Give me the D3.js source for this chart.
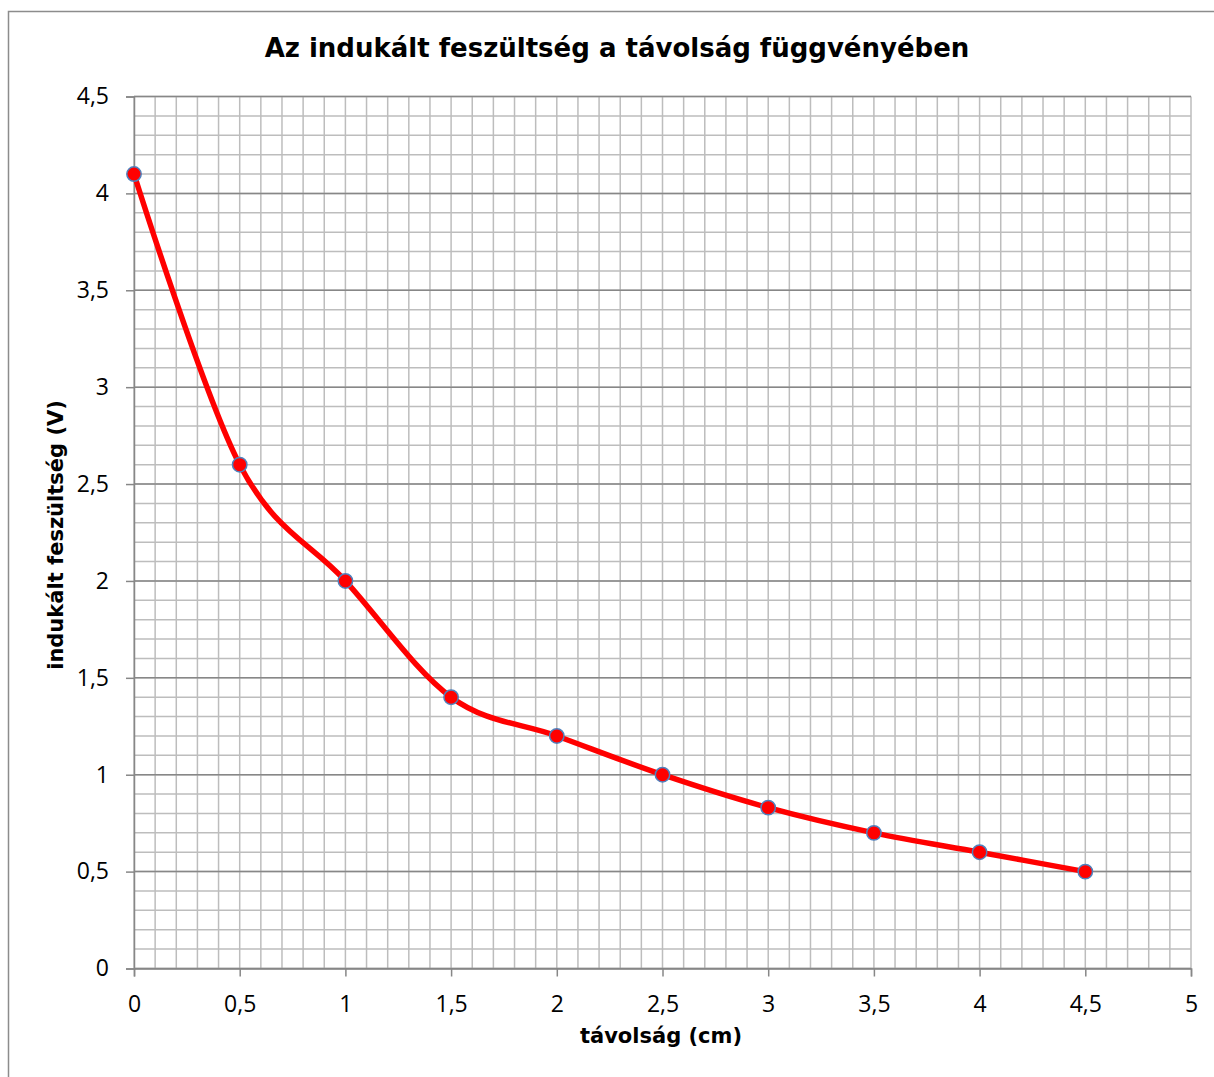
<!DOCTYPE html>
<meta charset="utf-8">
<script src="https://d3js.org/d3.v7.min.js"></script>
<style>
  body { margin: 0; background: #fff; }
</style>
<div id="chart"></div>
<script>
// data
var distance = [0, 0.5, 1, 1.5, 2, 2.5, 3, 3.5, 4, 4.5];
var voltage = [4.1, 2.6, 2.0, 1.4, 1.2, 1.0, 0.83, 0.7, 0.6, 0.5];
var xTicks = [0, 0.5, 1, 1.5, 2, 2.5, 3, 3.5, 4, 4.5, 5];
var yTicks = [0, 0.5, 1, 1.5, 2, 2.5, 3, 3.5, 4, 4.5];
var minorStep = 0.1;

var W = 1214, H = 1077;
var margin = { top: 96.5, right: 23, bottom: 108.5, left: 134 };
var width = W - margin.left - margin.right,
    height = H - margin.top - margin.bottom;

var fmt = function (d) { return String(d).replace(".", ","); };

var svg = d3.select("#chart").append("svg")
    .attr("width", W).attr("height", H);

// outer frame (runs off the right/bottom edge like the screenshot)
svg.append("rect")
    .attr("x", 8.5).attr("y", 11.5)
    .attr("width", W + 10).attr("height", H + 10)
    .attr("fill", "none").attr("stroke", "#8c8c8c").attr("stroke-width", 1.5);

var g = svg.append("g")
    .attr("transform", "translate(" + margin.left + "," + margin.top + ")");

var x = d3.scaleLinear().domain([0, 5]).range([0, width]);
var y = d3.scaleLinear().domain([0, 4.5]).range([height, 0]);

// minor grid
var xMinor = d3.range(0, 50 + 1).map(function (i) { return i * minorStep; });
var yMinor = d3.range(0, 45 + 1).map(function (i) { return i * minorStep; });

g.selectAll(".vgrid").data(xMinor).enter().append("line")
    .attr("x1", function (d) { return x(d); }).attr("x2", function (d) { return x(d); })
    .attr("y1", 0).attr("y2", height)
    .attr("stroke", "#bdbdbd").attr("stroke-width", 1.5);

g.selectAll(".hgrid").data(yMinor).enter().append("line")
    .attr("y1", function (d) { return y(d); }).attr("y2", function (d) { return y(d); })
    .attr("x1", 0).attr("x2", width)
    .attr("stroke", "#bdbdbd").attr("stroke-width", 1.5);

// major horizontal grid
g.selectAll(".hmajor").data(yTicks).enter().append("line")
    .attr("y1", function (d) { return y(d); }).attr("y2", function (d) { return y(d); })
    .attr("x1", 0).attr("x2", width)
    .attr("stroke", "#878787").attr("stroke-width", 1.5);

// axes
var xAxis = g.append("g")
    .attr("transform", "translate(0," + height + ")")
    .call(d3.axisBottom(x).tickValues(xTicks).tickFormat(fmt).tickSize(8).tickPadding(19));
var yAxis = g.append("g")
    .call(d3.axisLeft(y).tickValues(yTicks).tickFormat(fmt).tickSize(8).tickPadding(17));

[xAxis, yAxis].forEach(function (a) {
    a.select(".domain").attr("stroke", "#878787").attr("stroke-width", 1.5);
    a.selectAll(".tick line").attr("stroke", "#878787").attr("stroke-width", 1.5);
    a.selectAll("text")
        .attr("fill", "#000")
        .style("font-family", "'Open Sans', sans-serif")
        .style("font-size", "23px");
});

// smoothed line
var pts = distance.map(function (d, i) { return [d, voltage[i]]; });
var line = d3.line()
    .x(function (d) { return x(d[0]); })
    .y(function (d) { return y(d[1]); })
    .curve(d3.curveCardinal.tension(0));

g.append("path").datum(pts)
    .attr("d", line)
    .attr("fill", "none")
    .attr("stroke", "#ff0000")
    .attr("stroke-width", 5.5)
    .attr("stroke-linejoin", "round");

g.selectAll(".dot").data(pts).enter().append("circle")
    .attr("cx", function (d) { return x(d[0]); })
    .attr("cy", function (d) { return y(d[1]); })
    .attr("r", 7.2)
    .attr("fill", "#ff0000")
    .attr("stroke", "#4f81bd")
    .attr("stroke-width", 1.5);

// titles
svg.append("text")
    .attr("x", 617).attr("y", 57)
    .attr("text-anchor", "middle")
    .style("font-family", "'DejaVu Sans', Verdana, sans-serif")
    .style("font-weight", "bold").style("font-size", "26px")
    .text("Az indukált feszültség a távolság függvényében");

svg.append("text")
    .attr("x", 661).attr("y", 1043)
    .attr("text-anchor", "middle")
    .style("font-family", "'DejaVu Sans', Verdana, sans-serif")
    .style("font-weight", "bold").style("font-size", "21px")
    .text("távolság (cm)");

svg.append("text")
    .attr("transform", "translate(63," + 535 + ") rotate(-90)")
    .attr("text-anchor", "middle")
    .style("font-family", "'DejaVu Sans', Verdana, sans-serif")
    .style("font-weight", "bold").style("font-size", "21px")
    .text("indukált feszültség (V)");
</script>
